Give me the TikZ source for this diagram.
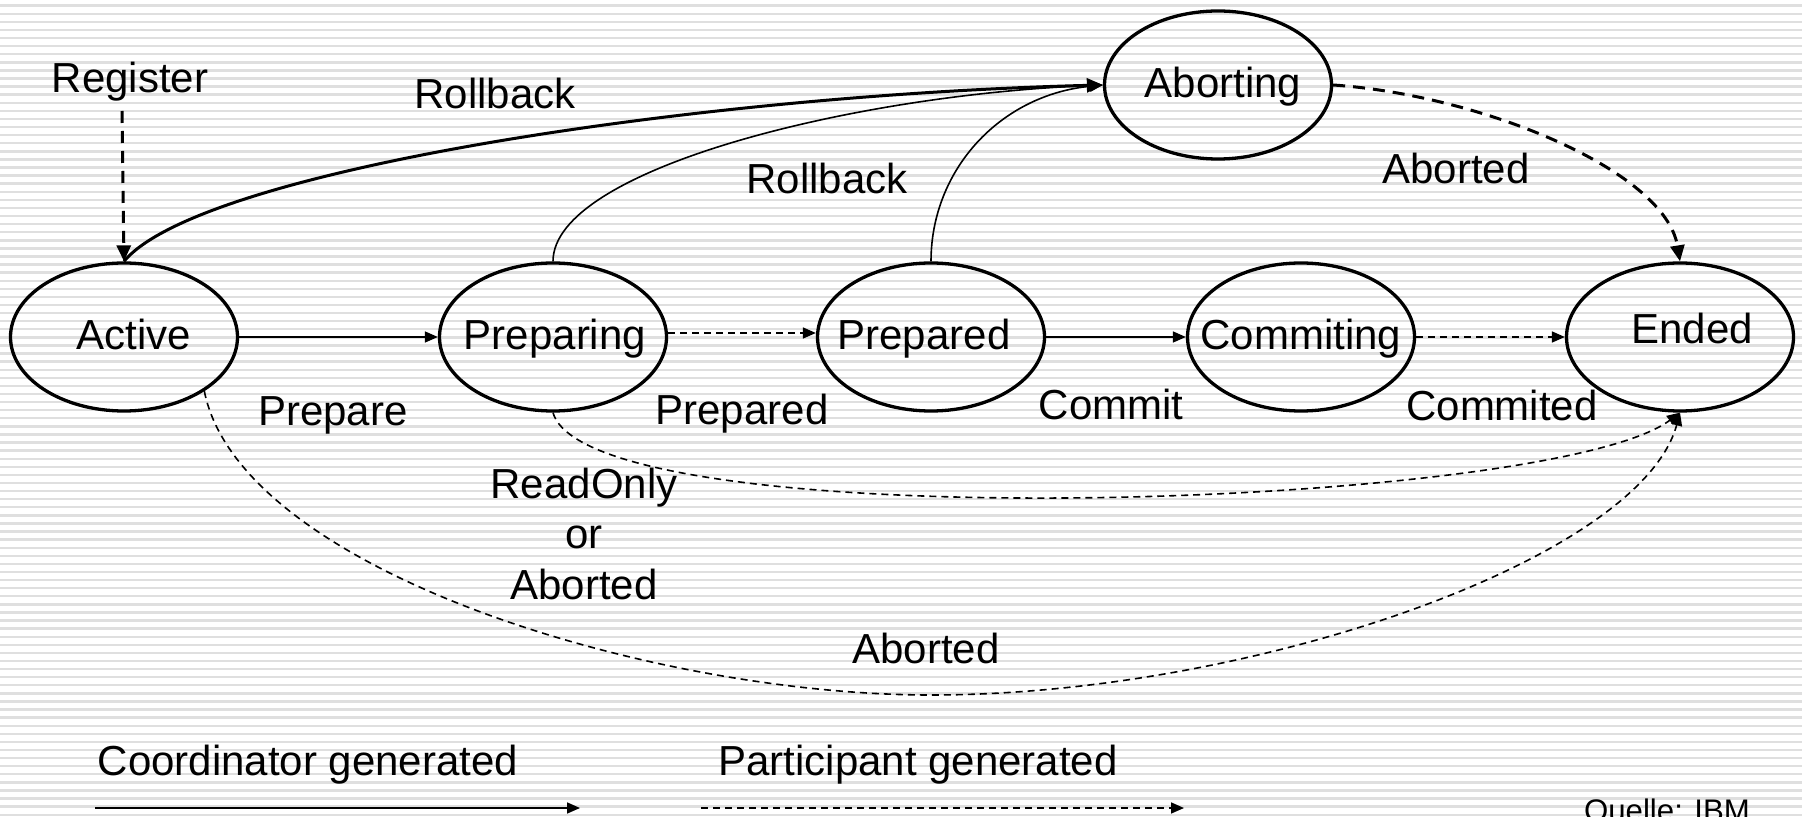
\documentclass[tikz,border=0pt]{standalone}
\usepackage{fontspec}
\setmainfont{Liberation Sans}
\usetikzlibrary{arrows.meta,shapes.geometric}
\tikzset{
  stripe/.style={draw=gray!25,line width=1.2pt},
  state/.style={ellipse,draw,line width=1.65pt,minimum width=113.5pt,minimum height=74pt,inner sep=0pt},
  lbl/.style={anchor=base,inner sep=0pt,font=\fontsize{21}{25.3}\selectfont},
  solidarr/.style={line width=0.8pt,-{Triangle[length=6.5pt,width=5.5pt]}},
  dasharr/.style={line width=0.8pt,dash pattern=on 3.5pt off 2.5pt,-{Triangle[length=6.5pt,width=5.5pt]}},
  thickarr/.style={line width=1.5pt,-{Triangle[length=8pt,width=7pt]}},
  thickdash/.style={line width=1.5pt,dash pattern=on 6pt off 4pt,-{Triangle[length=8pt,width=7pt]}}
}
\begin{document}
\begin{tikzpicture}[x=0.5pt,y=-0.5pt]
\useasboundingbox (0,0) rectangle (1802,817);
\fill[white] (0,0) rectangle (1802,817);
\foreach \k in {0,...,100} {\draw[stripe] (0,5.7+8.09*\k) -- (1802,5.7+8.09*\k);}

% states
\node[state] (active) at (124,337) {};
\node[state] (preparing) at (553,337) {};
\node[state] (prepared) at (931,337) {};
\node[state] (commiting) at (1301,337) {};
\node[state] (ended) at (1680,337) {};
\node[state] (aborting) at (1218,85) {};

\node[lbl] (tactive) at (134,350) {Active};
\node[lbl] (tpreparing) at (555,350) {Preparing};
\node[lbl] (tprepared) at (924,350) {Prepared};
\node[lbl] (tcommiting) at (1301,350) {Commiting};
\node[lbl] (tended) at (1692,344) {Ended};
\node[lbl] (taborting) at (1223,98) {Aborting};

% register
\node[lbl] (register) at (130,93) {Register};
\coordinate (reg) at (122,111);
\draw[thickdash] (reg) -- (active.north);

% rollbacks
\draw[thickarr] (active.north) .. controls (200,170) and (700,95) .. (aborting.west);
\draw[solidarr] (preparing.north) .. controls (553,170) and (850,95) .. (aborting.west);
\draw[solidarr] (prepared.north) .. controls (931,170) and (1000,95) .. (aborting.west);
\node[lbl] (rb1) at (495,109) {Rollback};
\node[lbl] (rb2) at (827,194) {Rollback};

% aborting -> ended
\draw[thickdash] (aborting.east) .. controls (1480,95) and (1665,170) .. (ended.north);
\node[lbl] (ab1) at (1456,184) {Aborted};

% main row
\draw[solidarr] (active) -- (preparing);
\draw[dasharr] ([yshift=2pt]preparing.east) -- ([yshift=2pt]prepared.west);
\draw[solidarr] (prepared) -- (commiting);
\draw[dasharr] (commiting) -- (ended);
\node[lbl] (lprepare) at (333,426) {Prepare};
\node[lbl] (lprepared) at (742,425) {Prepared};
\node[lbl] (lcommit) at (1111,420) {Commit};
\node[lbl] (lcommited) at (1502,421) {Commited};

% preparing -> ended
\draw[dasharr] (preparing.south) .. controls (590,540) and (1550,510) .. (ended.south);
\node[lbl] (ro1) at (584,498) {ReadOnly};
\node[lbl] (ro2) at (584,548) {or};
\node[lbl] (ro3) at (584,599) {Aborted};

% active -> ended
\coordinate (abot) at (931,695);
\draw[dasharr] (active.-34) .. controls (240,570) and (650,695) .. (abot) .. controls (1250,695) and (1640,560) .. (ended.south);
\node[lbl] (ab2) at (926,663) {Aborted};

% legend
\node[lbl] (lcoord) at (308,775) {Coordinator generated};
\node[lbl] (lpart) at (918,775) {Participant generated};
\coordinate (l1s) at (95,808);
\coordinate (l1e) at (580,808);
\coordinate (l2s) at (701,808);
\coordinate (l2e) at (1184,808);
\draw[solidarr] (l1s) -- (l1e);
\draw[dasharr] (l2s) -- (l2e);

\node[anchor=base,inner sep=0pt,font=\fontsize{15.6}{18}\selectfont] (quelle) at (1667,821) {Quelle: IBM};
\end{tikzpicture}
\end{document}
